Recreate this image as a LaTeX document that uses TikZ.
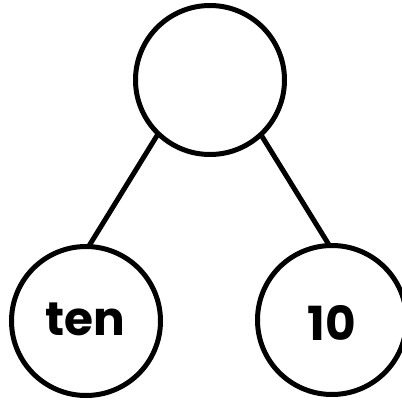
\documentclass[tikz,border=0pt]{standalone}
\usepackage{fontspec}
\setmainfont{Poppins}
\begin{document}
\begin{tikzpicture}[x=1pt,y=-1pt,
  ball/.style={circle,draw=black,line width=5pt,minimum size=149pt,inner sep=0pt,outer sep=0pt},
  lbl/.style={anchor=base,inner sep=0pt,font=\fontsize{47}{50}\selectfont\bfseries},
  link/.style={draw=black,line width=5pt}]
\useasboundingbox (0,0) rectangle (402,402);
\node[ball] (top) at (210,80) {};
\node[ball] (left) at (86,321) {};
\node[ball] (right) at (332,320) {};
\node[lbl] (tenlbl) at (85,335) {ten};
\node[lbl] (numlbl) at (331.5,340) {10};
\draw[link] (top.226) -- (left.88);
\draw[link] (top.313) -- (right.92);
\end{tikzpicture}
\end{document}
